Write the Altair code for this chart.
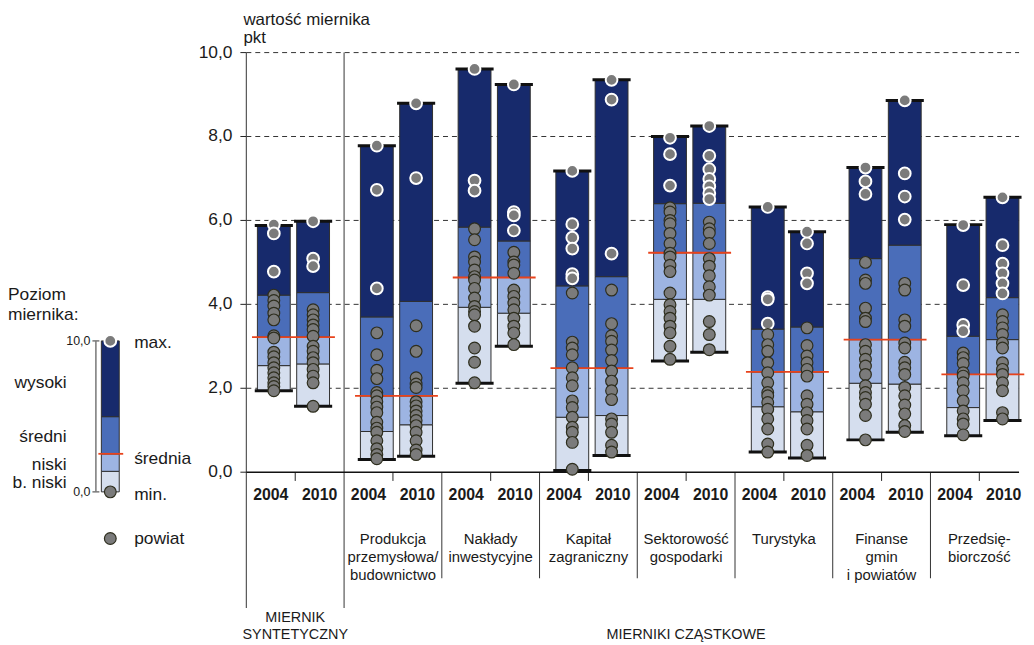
import altair as alt
import pandas as pd

# ---------------- data ----------------
YEARS = ["2004", "2010"]
GROUP_LABEL_LINES = [
    [],
    ["Produkcja", "przemysłowa/", "budownictwo"],
    ["Nakłady", "inwestycyjne"],
    ["Kapitał", "zagraniczny"],
    ["Sektorowość", "gospodarki"],
    ["Turystyka"],
    ["Finanse", "gmin", "i powiatów"],
    ["Przedsię-", "biorczość"],
]
MEANS = [3.22, 1.82, 4.64, 2.48, 5.23, 2.39, 3.16, 2.33]

MIN_2004 = [1.94, 0.30, 2.12, 0.04, 2.65, 0.48, 0.77, 0.87]
LOW_2004 = [2.54, 0.97, 3.93, 1.31, 4.12, 1.56, 2.12, 1.54]
MID_2004 = [3.22, 1.82, 4.64, 2.48, 5.23, 2.39, 3.16, 2.33]
HIGH_2004 = [4.22, 3.70, 5.84, 4.44, 6.40, 3.41, 5.09, 3.24]
MAX_2004 = [5.88, 7.78, 9.61, 7.18, 8.00, 6.32, 7.26, 5.90]

MIN_2010 = [1.57, 0.38, 3.00, 0.40, 2.86, 0.34, 0.95, 1.23]
LOW_2010 = [2.58, 1.13, 3.79, 1.35, 4.12, 1.44, 2.10, 2.33]
MID_2010 = [3.22, 1.82, 4.64, 2.48, 5.23, 2.39, 3.16, 3.16]
HIGH_2010 = [4.28, 4.07, 5.51, 4.66, 6.41, 3.46, 5.41, 4.16]
MAX_2010 = [5.98, 8.79, 9.24, 9.35, 8.25, 5.73, 8.86, 6.55]

POINTS_2004 = [
    [5.90, 5.69, 4.78, 4.22, 4.09, 3.96, 3.79, 3.63, 3.25, 3.20, 2.86, 2.75, 2.61, 2.49, 2.37, 2.25, 2.13, 2.04, 1.94],
    [7.78, 6.73, 4.38, 3.32, 2.80, 2.43, 2.23, 1.90, 1.82, 1.68, 1.55, 1.42, 1.19, 1.05, 0.95, 0.75, 0.56, 0.42, 0.32],
    [9.61, 6.95, 6.71, 5.80, 5.54, 5.13, 5.01, 4.82, 4.66, 4.58, 4.38, 4.15, 3.95, 3.83, 3.75, 3.48, 2.96, 2.62, 2.13],
    [7.18, 5.91, 5.59, 5.33, 4.72, 4.62, 4.27, 3.10, 2.96, 2.80, 2.49, 2.25, 2.06, 1.70, 1.54, 1.31, 1.07, 0.95, 0.71, 0.07],
    [7.97, 7.58, 6.83, 6.30, 6.20, 6.00, 5.92, 5.69, 5.45, 5.22, 5.13, 4.93, 4.78, 4.27, 3.99, 3.83, 3.67, 3.48, 3.32, 3.00, 2.69],
    [6.32, 4.17, 4.12, 3.54, 3.28, 3.04, 2.88, 2.61, 2.37, 2.13, 1.90, 1.82, 1.66, 1.50, 1.27, 1.03, 0.67, 0.48],
    [7.26, 6.93, 6.63, 5.00, 4.58, 4.50, 3.91, 3.67, 3.59, 3.04, 2.88, 2.69, 2.53, 2.33, 2.06, 1.90, 1.78, 1.62, 1.35, 0.77],
    [5.89, 4.46, 3.51, 3.36, 2.84, 2.73, 2.59, 2.37, 2.29, 2.13, 1.94, 1.70, 1.46, 1.27, 1.15, 0.89],
]
POINTS_2010 = [
    [5.98, 5.09, 4.91, 3.87, 3.75, 3.63, 3.51, 3.40, 3.24, 3.00, 2.88, 2.73, 2.61, 2.45, 2.29, 2.13, 1.57],
    [8.79, 7.01, 3.49, 2.88, 2.25, 2.10, 2.02, 1.68, 1.58, 1.46, 1.35, 1.23, 1.11, 0.95, 0.75, 0.53, 0.42],
    [9.24, 6.20, 6.12, 5.76, 5.24, 5.01, 4.94, 4.74, 4.34, 4.19, 4.03, 3.87, 3.67, 3.48, 3.32, 3.04],
    [9.35, 8.88, 5.21, 4.34, 3.54, 3.25, 3.12, 2.91, 2.66, 2.41, 2.17, 1.94, 1.73, 1.27, 1.15, 0.95, 0.64, 0.48],
    [8.25, 7.54, 7.22, 6.99, 6.81, 6.65, 6.51, 5.96, 5.80, 5.70, 5.45, 5.09, 4.91, 4.68, 4.42, 4.22, 3.59, 3.28, 2.92],
    [5.73, 5.45, 4.74, 4.50, 3.44, 3.02, 2.77, 2.61, 2.45, 2.29, 1.82, 1.62, 1.42, 1.23, 1.03, 0.64, 0.40],
    [8.86, 7.12, 6.57, 6.02, 4.50, 4.34, 3.63, 3.48, 3.08, 2.96, 2.62, 2.49, 2.33, 2.02, 1.82, 1.60, 1.39, 1.11, 0.97],
    [6.55, 5.41, 4.97, 4.74, 4.50, 4.26, 3.75, 3.59, 3.44, 3.28, 3.08, 2.96, 2.61, 2.45, 2.33, 2.13, 1.94, 1.42, 1.27],
]

Y_TICKS = [0, 2, 4, 6, 8, 10]
Y_TICK_LABELS = ["0,0", "2,0", "4,0", "6,0", "8,0", "10,0"]

# legend example bar (scale 0-10)
LEG_MIN, LEG_LOW, LEG_MID, LEG_HIGH, LEG_MAX = 0.0, 1.36, 2.52, 4.98, 10.0

# ---------------- layout / style ----------------
PX0, GW = 248.0, 98.4      # pixel of x=0, pixels per group
PY0, VK = 470.2, 42.25     # pixel of value 0, pixels per unit


def ux(px):
    return (px - PX0) / GW


def vy(py):
    return (PY0 - py) / VK


W, H = 1018, 629
U_MIN, U_MAX = ux(8), ux(8 + W)
V_MIN, V_MAX = vy(8 + H), vy(8)
XS = alt.Scale(domain=[U_MIN, U_MAX], nice=False, zero=False)
YS = alt.Scale(domain=[V_MIN, V_MAX], nice=False, zero=False)

SEG_COLORS = ["#d5deee", "#9db4e2", "#4a6db9", "#172a6c"]
PT_FILL = "#7b7b7b"
PT_DARK = "#2e2e1e"
RED = "#e8431c"
FONT = "Liberation Sans"
OFFS = [0.335, 0.737]
OFFS_FIRST = [0.281, 0.683]
HALF = 0.168
CAP_HALF = 0.195

YEAR_DATA = {
    "2004": (MIN_2004, LOW_2004, MID_2004, HIGH_2004, MAX_2004, POINTS_2004),
    "2010": (MIN_2010, LOW_2010, MID_2010, HIGH_2010, MAX_2010, POINTS_2010),
}

X = lambda f="x": alt.X(f"{f}:Q", scale=XS, axis=None)
Y = lambda f="y": alt.Y(f"{f}:Q", scale=YS, axis=None)

seg_rows, cap_rows, pt_rows, mean_rows, year_rows = [], [], [], [], []
for g in range(8):
    offs = OFFS_FIRST if g == 0 else OFFS
    for yi, yr in enumerate(YEARS):
        mn, lo, md, hi, mx, pts = YEAR_DATA[yr]
        c = g + offs[yi]
        bounds = [mn[g], lo[g], md[g], hi[g], mx[g]]
        for s in range(4):
            seg_rows.append(dict(x=c - HALF, x2=c + HALF, y=bounds[s], y2=bounds[s + 1], color=SEG_COLORS[s]))
        for v in (mn[g], mx[g]):
            cap_rows.append(dict(x=c - CAP_HALF, x2=c + CAP_HALF, y=v, y2=v))
        for v in pts[g]:
            white = v > hi[g]
            pt_rows.append(dict(x=c, y=v, sc="#ffffff" if white else PT_DARK, sw=2.0 if white else 1.2))
        year_rows.append(dict(x=g + 0.25 + 0.5 * yi, y=vy(493), text=yr))
    mean_rows.append(dict(x=g + offs[0] - HALF - 0.055, x2=g + offs[1] + HALF + 0.055, y=MEANS[g], y2=MEANS[g]))

# legend geometry
LX0, LX1 = ux(102), ux(120)
LXC = (LX0 + LX1) / 2
LV0, LV1 = vy(490), vy(338)


def lv(val):
    return LV0 + (LV1 - LV0) * val / 10.0


leg_b = [LEG_MIN, LEG_LOW, LEG_MID, LEG_HIGH, LEG_MAX]
for s in range(4):
    seg_rows.append(dict(x=LX0, x2=LX1, y=lv(leg_b[s]), y2=lv(leg_b[s + 1]), color=SEG_COLORS[s]))
mean_rows.append(dict(x=ux(99), x2=ux(124), y=lv(LEG_MID), y2=lv(LEG_MID)))
pt_rows.append(dict(x=LXC, y=lv(LEG_MAX), sc="#ffffff", sw=2.0))
pt_rows.append(dict(x=LXC, y=lv(LEG_MIN), sc=PT_DARK, sw=1.2))
pt_rows.append(dict(x=LXC, y=vy(537), sc=PT_DARK, sw=1.2))


def rule_layer(rows, **mark):
    return alt.Chart(pd.DataFrame(rows)).mark_rule(**mark).encode(
        x=X(), x2="x2:Q", y=Y(), y2="y2:Q")


def text_layer(rows, **mark):
    props = dict(font=FONT, color="#1a1a1a")
    props.update(mark)
    return alt.Chart(pd.DataFrame(rows)).mark_text(**props).encode(
        x=X(), y=Y(), text="text:N")


grid = rule_layer([dict(x=0, x2=U_MAX, y=v, y2=v) for v in Y_TICKS[1:]],
                  color="#333333", strokeWidth=1, strokeDash=[5, 4])
main_sep = rule_layer([dict(x=g, x2=g, y=10, y2=vy(607)) for g in (0, 1)],
                      color="#555555", strokeWidth=1.2)
part_sep = rule_layer([dict(x=g, x2=g, y=0, y2=vy(577)) for g in range(2, 8)],
                      color="#333333", strokeWidth=1)
center_ticks = rule_layer([dict(x=g + 0.5, x2=g + 0.5, y=0, y2=vy(479)) for g in range(8)],
                          color="#222222", strokeWidth=1)
y_ticks = rule_layer([dict(x=ux(242), x2=0, y=v, y2=v) for v in Y_TICKS],
                     color="#222222", strokeWidth=1)
x_axis = rule_layer([dict(x=0, x2=U_MAX, y=0, y2=0)], color="#111111", strokeWidth=1.5)
leg_axis = rule_layer([dict(x=ux(96.5), x2=ux(96.5), y=LV0, y2=LV1),
                       dict(x=ux(93), x2=ux(100), y=LV0, y2=LV0),
                       dict(x=ux(93), x2=ux(100), y=LV1, y2=LV1)],
                      color="#777777", strokeWidth=1.5)

segs = alt.Chart(pd.DataFrame(seg_rows)).mark_rect(stroke="#2f2f2f", strokeWidth=1).encode(
    x=X(), x2="x2:Q", y=Y(), y2="y2:Q", color=alt.Color("color:N", scale=None))
caps = rule_layer(cap_rows, color="#111111", strokeWidth=3)
mean_lines = rule_layer(mean_rows, color=RED, strokeWidth=1.8)
points = alt.Chart(pd.DataFrame(pt_rows)).mark_circle(
    fill=PT_FILL, opacity=1, fillOpacity=1, size=140).encode(
    x=X(), y=Y(),
    stroke=alt.Stroke("sc:N", scale=None),
    strokeWidth=alt.StrokeWidth("sw:Q", scale=None))

y_labels = text_layer([dict(x=ux(234), y=v, text=t) for v, t in zip(Y_TICKS, Y_TICK_LABELS)],
                      align="right", baseline="middle", fontSize=17.5)
title_txt = text_layer([dict(x=ux(245), y=vy(19.5), text="wartość miernika"),
                        dict(x=ux(245), y=vy(38.5), text="pkt")],
                       align="left", baseline="alphabetic", fontSize=17)
year_txt = text_layer(year_rows, align="center", baseline="middle", fontSize=16, fontWeight="bold")

cat_rows = []
for g, lines in enumerate(GROUP_LABEL_LINES):
    for li, t in enumerate(lines):
        cat_rows.append(dict(x=g + 0.5, y=vy(537 + 18.5 * li), text=t))
cat_txt = text_layer(cat_rows, align="center", baseline="middle", fontSize=15)
bottom_txt = text_layer([dict(x=0.5, y=vy(617), text="MIERNIK"),
                         dict(x=0.5, y=vy(634), text="SYNTETYCZNY"),
                         dict(x=4.5, y=vy(634), text="MIERNIKI CZĄSTKOWE")],
                        align="center", baseline="middle", fontSize=14.5)

leg_title = text_layer([dict(x=ux(8), y=vy(296.7), text="Poziom"),
                        dict(x=ux(8), y=vy(316.7), text="miernika:")],
                       align="left", baseline="alphabetic", fontSize=17.5)
leg_left = text_layer([dict(x=ux(67), y=vy(385), text="wysoki"),
                       dict(x=ux(67), y=vy(440), text="średni"),
                       dict(x=ux(67), y=vy(468), text="niski"),
                       dict(x=ux(67), y=vy(486.5), text="b. niski")],
                      align="right", baseline="alphabetic", fontSize=17.5)
leg_right = text_layer([dict(x=ux(135), y=vy(345), text="max."),
                        dict(x=ux(135), y=vy(461.5), text="średnia"),
                        dict(x=ux(135), y=vy(498), text="min."),
                        dict(x=ux(135), y=vy(542), text="powiat")],
                       align="left", baseline="alphabetic", fontSize=17.5)
leg_scale = text_layer([dict(x=ux(91), y=LV1, text="10,0"),
                        dict(x=ux(91), y=LV0, text="0,0")],
                       align="right", baseline="middle", fontSize=12.5)

chart = alt.layer(
    grid, main_sep, part_sep, center_ticks, y_ticks, x_axis, leg_axis,
    segs, mean_lines, caps, points,
    y_labels, title_txt, year_txt, cat_txt, bottom_txt,
    leg_title, leg_left, leg_right, leg_scale,
).properties(width=W, height=H, padding=0).configure_view(stroke=None)

chart.save("out.html", embed_options={"renderer": "svg", "actions": False})
